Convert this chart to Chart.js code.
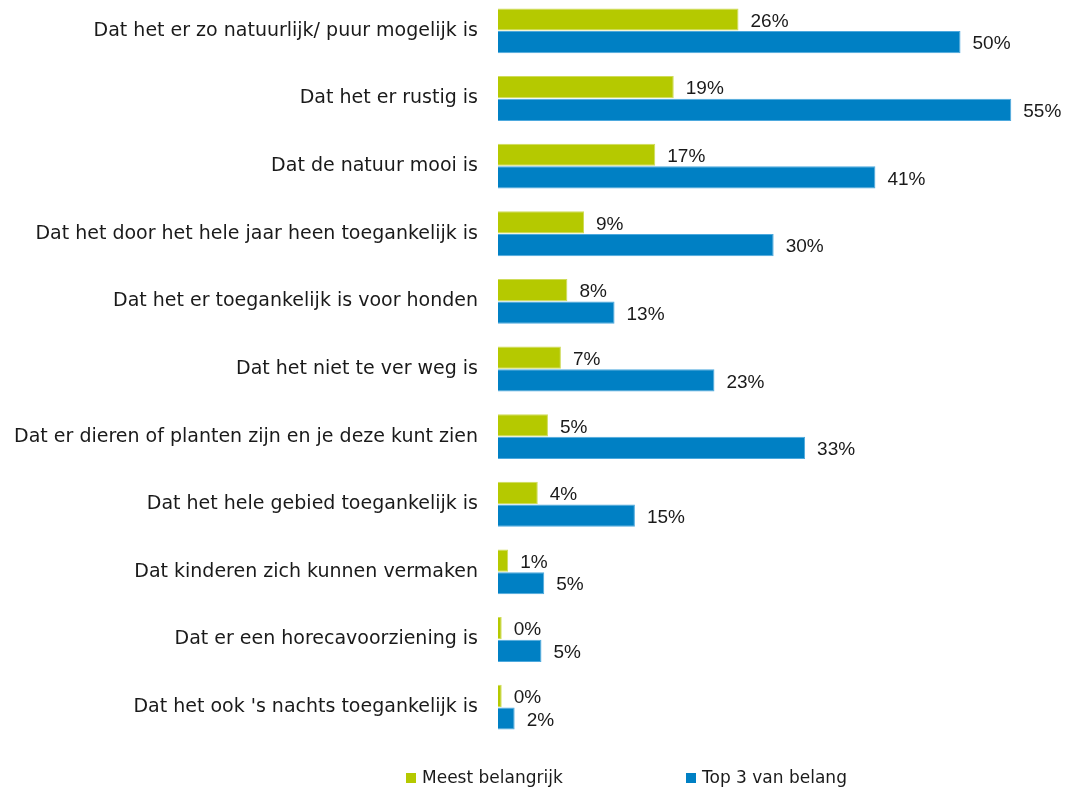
<!DOCTYPE html>
<html lang="nl">
<head>
  <meta charset="UTF-8" />
  <title>Belangrijk bij natuurgebied</title>
  <script src="https://cdn.jsdelivr.net/npm/chart.js"></script>
  <style>
    body {
      margin: 0;
      background: #fff;
      width: 1066px;
      height: 789px;
      position: relative;
      overflow: hidden;
    }
    /* y tick labels add 30px padding top and bottom, so the box is pulled up */
    .chart-box {
      position: absolute;
      left: 0;
      top: -33px;
      width: 1066px;
      height: 804px;
    }
    .legend {
      position: absolute;
      top: 767px;
      left: 0;
      font-family: "DejaVu Sans", sans-serif;
      font-size: 17px;
      color: #1a1a1a;
    }
    .legend span {
      position: absolute;
      white-space: nowrap;
    }
    .legend i {
      display: inline-block;
      width: 10px;
      height: 10px;
      margin-right: 6px;
      vertical-align: 0px;
    }
  </style>
</head>
<body>
  <div class="chart-box">
    <canvas id="barChart"></canvas>
  </div>
  <div class="legend">
    <span style="left:406px"><i style="background:#b5c900"></i>Meest belangrijk</span>
    <span style="left:686px"><i style="background:#0080c4"></i>Top 3 van belang</span>
  </div>

  <script>
    const categories = [
      "Dat het er zo natuurlijk/ puur mogelijk is",
      "Dat het er rustig is",
      "Dat de natuur mooi is",
      "Dat het door het hele jaar heen toegankelijk is",
      "Dat het er toegankelijk is voor honden",
      "Dat het niet te ver weg is",
      "Dat er dieren of planten zijn en je deze kunt zien",
      "Dat het hele gebied toegankelijk is",
      "Dat kinderen zich kunnen vermaken",
      "Dat er een horecavoorziening is",
      "Dat het ook 's nachts toegankelijk is"
    ];
    const meestBelangrijk = [26, 19, 17, 9.3, 7.5, 6.8, 5.4, 4.3, 1.1, 0.4, 0.4];
    const top3VanBelang = [50, 55.49, 40.8, 29.8, 12.6, 23.4, 33.2, 14.8, 5, 4.7, 1.8];

    // percentage label right of each bar
    const valueLabels = {
      id: 'valueLabels',
      afterDatasetsDraw(chart) {
        const c = chart.ctx;
        c.save();
        c.font = '19px "Liberation Sans", Arial, sans-serif';
        c.fillStyle = '#1a1a1a';
        c.textBaseline = 'middle';
        c.textAlign = 'left';
        chart.data.datasets.forEach((ds, i) => {
          chart.getDatasetMeta(i).data.forEach((bar, j) => {
            c.fillText(Math.round(ds.data[j]) + '%', bar.x + 12, bar.y + 2);
          });
        });
        c.restore();
      }
    };

    const ctx = document.getElementById('barChart').getContext('2d');
    new Chart(ctx, {
      type: 'bar',
      data: {
        labels: categories,
        datasets: [
          {
            label: 'Meest belangrijk',
            data: meestBelangrijk,
            backgroundColor: '#b5c900',
            borderColor: '#cfdc5a',
            borderWidth: 1,
            categoryPercentage: 0.67,
            barPercentage: 0.98
          },
          {
            label: 'Top 3 van belang',
            data: top3VanBelang,
            backgroundColor: '#0080c4',
            borderColor: '#4da9de',
            borderWidth: 1,
            categoryPercentage: 0.67,
            barPercentage: 0.98
          }
        ]
      },
      options: {
        indexAxis: 'y',
        responsive: true,
        maintainAspectRatio: false,
        animation: false,
        layout: { padding: { left: 0, right: 13, top: 0, bottom: 0 } },
        plugins: {
          legend: { display: false },
          tooltip: { enabled: false }
        },
        scales: {
          x: {
            display: false,
            min: 0,
            max: 60
          },
          y: {
            grid: { display: false, drawTicks: false },
            border: { display: false },
            ticks: {
              padding: 20,
              color: '#1a1a1a',
              font: { family: '"DejaVu Sans", sans-serif', size: 19, lineHeight: '20px' }
            },
            afterFit(scale) { scale.width = 498; }
          }
        }
      },
      plugins: [valueLabels]
    });
  </script>
</body>
</html>
